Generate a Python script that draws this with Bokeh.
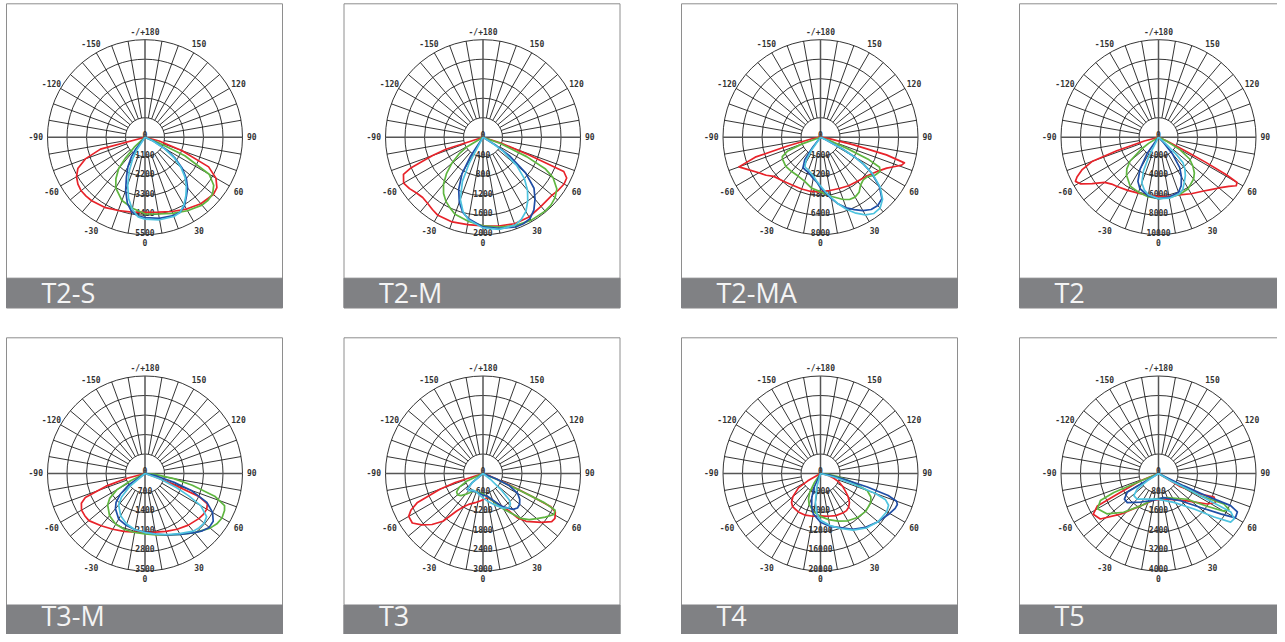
import math
from bokeh.plotting import figure
from bokeh.models import Range1d
from bokeh.core.properties import value
from bokeh.embed import file_html
from bokeh.resources import INLINE

# ---------------- data ----------------
panel_names = ["T2-S", "T2-M", "T2-MA", "T2", "T3-M", "T3", "T4", "T5"]
scale_max = [5500, 2000, 8000, 10000, 3500, 3000, 20000, 4000]
ring_labels = [
    ["0", "1100", "2200", "3300", "4400", "5500"],
    ["0", "400", "800", "1200", "1600", "2000"],
    ["0", "1600", "3200", "4800", "6400", "8000"],
    ["0", "2000", "4000", "6000", "8000", "10000"],
    ["0", "700", "1400", "2100", "2800", "3500"],
    ["0", "600", "1200", "1800", "2400", "3000"],
    ["0", "4000", "8000", "12000", "16000", "20000"],
    ["0", "800", "1600", "2400", "3200", "4000"],
]
angle_label_deg = [0, 30, 60, 90, 120, 150, 180, -150, -120, -90, -60, -30]
angle_label_txt = ["0", "30", "60", "90", "120", "150", "-/+180", "-150", "-120", "-90", "-60", "-30"]

# T2-S
t2s_red_deg = [-82, -75, -70, -65, -60, -55, -50, -45, -40, -30, -20, -10, 0, 10, 20, 30, 40, 50, 55, 60, 65, 70, 75, 80]
t2s_red_cd = [0, 2600, 3580, 4180, 4460, 4620, 4700, 4700, 4680, 4570, 4400, 4290, 4240, 4290, 4460, 4680, 4900, 5030, 4950, 4620, 3960, 2200, 830, 0]
t2s_green_deg = [-52, -47, -43, -40, -35, -30, -20, -10, 0, 10, 20, 30, 40, 45, 50, 55, 60, 65, 68, 72]
t2s_green_cd = [0, 830, 1650, 2310, 2860, 3300, 3800, 4070, 4320, 4400, 4570, 4790, 5000, 5030, 4980, 4730, 4180, 2480, 830, 0]
t2s_blue_deg = [-42, -38, -35, -30, -25, -20, -15, -10, -5, 0, 10, 20, 25, 30, 35, 40, 45, 50, 55, 60, 65, 68]
t2s_blue_cd = [0, 830, 1320, 1930, 2480, 3190, 3850, 4290, 4460, 4540, 4650, 4700, 4680, 4460, 4070, 3740, 3300, 2750, 2090, 1380, 550, 0]
t2s_cyan_deg = [-36, -33, -30, -25, -20, -15, -10, -5, 0, 10, 20, 25, 30, 35, 40, 45, 50, 55, 60, 65, 69]
t2s_cyan_cd = [0, 830, 1380, 2090, 2860, 3580, 4130, 4510, 4620, 4730, 4760, 4680, 4400, 4020, 3630, 3190, 2640, 1980, 1210, 440, 0]

# T2-M
t2m_red_deg = [-78, -72, -70, -67, -65, -60, -55, -50, -45, -40, -35, -30, -20, -10, 0, 10, 20, 30, 40, 50, 55, 60, 64, 67, 69, 72, 78]
t2m_red_cd = [0, 800, 1100, 1600, 1800, 1880, 1840, 1780, 1750, 1770, 1810, 1850, 1850, 1820, 1820, 1850, 1890, 1890, 1850, 1850, 1890, 1920, 1910, 1800, 1000, 400, 0]
t2m_green_deg = [-64, -59, -55, -50, -45, -40, -35, -30, -25, -20, -10, 0, 10, 20, 30, 40, 45, 50, 55, 60, 63, 66, 70, 74]
t2m_green_cd = [0, 380, 600, 840, 1060, 1260, 1410, 1520, 1600, 1680, 1750, 1820, 1870, 1930, 1970, 1980, 1970, 1930, 1850, 1660, 1440, 980, 380, 0]
t2m_blue_deg = [-36, -33, -30, -25, -20, -15, -10, 0, 10, 20, 25, 30, 35, 40, 45, 50, 55, 58, 62]
t2m_blue_cd = [0, 480, 860, 1180, 1420, 1600, 1700, 1840, 1900, 1960, 1960, 1930, 1820, 1660, 1480, 1140, 660, 300, 0]
t2m_cyan_deg = [-31, -28, -25, -20, -15, -10, 0, 10, 20, 25, 30, 35, 40, 45, 50, 55, 58, 62]
t2m_cyan_cd = [0, 600, 1000, 1360, 1580, 1720, 1860, 1920, 1920, 1860, 1760, 1600, 1420, 1200, 900, 500, 200, 0]

# T2-MA
t2ma_red_deg = [-85, -80, -75, -73, -70, -65, -60, -55, -50, -40, -30, -20, -10, 0, 10, 20, 30, 40, 50, 55, 60, 65, 68, 71, 73, 75, 77, 80, 85]
t2ma_red_cd = [0, 640, 2800, 5600, 7120, 6400, 5840, 5440, 5000, 4720, 4560, 4520, 4520, 4480, 4440, 4480, 4600, 4720, 4960, 5200, 5520, 6000, 6480, 7040, 7200, 5600, 2800, 800, 0]
t2ma_green_deg = [-74, -70, -67, -63, -60, -50, -40, -30, -20, -10, 0, 10, 20, 25, 30, 35, 40, 45, 50, 55, 60, 63, 65, 67, 70, 74]
t2ma_green_cd = [0, 1600, 2960, 3520, 3600, 3720, 3680, 3680, 3840, 4240, 4480, 4920, 5440, 5640, 5680, 5520, 5120, 4960, 5040, 5440, 5640, 5440, 4400, 2400, 800, 0]
t2ma_blue_deg = [-42, -38, -35, -30, -25, -20, -15, -10, -5, 0, 5, 10, 15, 20, 25, 30, 35, 40, 45, 50, 55, 58, 60, 62, 65, 68]
t2ma_blue_cd = [0, 1040, 2240, 2880, 2960, 3040, 3200, 3440, 3680, 4160, 4560, 5120, 5680, 6160, 6560, 6960, 7240, 7320, 7120, 6320, 5120, 4160, 3200, 2000, 400, 0]
t2ma_cyan_deg = [-38, -35, -32, -28, -25, -20, -15, -10, -5, 0, 5, 10, 15, 20, 25, 30, 35, 40, 45, 50, 55, 58, 60, 62, 65, 68]
t2ma_cyan_cd = [0, 1200, 2240, 2720, 2800, 2880, 3040, 3280, 3600, 4000, 4480, 5040, 5680, 6320, 6880, 7360, 7640, 7600, 7200, 6400, 5200, 4160, 3200, 2000, 480, 0]

# T2
t2_red_deg = [-80, -75, -72, -70, -67, -64, -62, -59, -55, -50, -45, -40, -30, -20, -10, 0, 10, 20, 30, 40, 45, 50, 55, 58, 60, 61, 62, 63, 65, 70]
t2_red_cd = [0, 1500, 4500, 7200, 8500, 9300, 9650, 9300, 8300, 7200, 6800, 6600, 6300, 6100, 6050, 6100, 6150, 6300, 6700, 7200, 7600, 8100, 8800, 9400, 9300, 8000, 5500, 3000, 1000, 0]
t2_green_deg = [-62, -58, -55, -50, -45, -40, -30, -20, -10, 0, 10, 20, 30, 40, 45, 50, 55, 60, 65, 70]
t2_green_cd = [0, 1200, 2200, 3800, 4600, 5100, 5800, 6000, 6200, 6300, 6300, 6250, 6100, 5600, 5200, 4600, 3900, 2500, 800, 0]
t2_blue_deg = [-39, -35, -30, -25, -20, -10, 0, 10, 20, 25, 30, 35, 40, 43, 46]
t2_blue_cd = [0, 2000, 3800, 5000, 5600, 6100, 6300, 6250, 6000, 5500, 4700, 3800, 2200, 800, 0]
t2_cyan_deg = [-30, -27, -24, -20, -15, -10, 0, 10, 20, 25, 30, 35, 40, 44, 46, 48, 50]
t2_cyan_cd = [0, 2000, 3800, 5000, 5600, 6000, 6300, 6350, 6200, 5900, 5300, 4800, 4200, 3600, 2500, 800, 0]

# T3-M
t3m_red_deg = [-80, -75, -72, -68, -65, -60, -55, -50, -40, -30, -20, -10, 0, 10, 20, 30, 40, 50, 55, 60, 64, 67, 69, 72, 76]
t3m_red_cd = [0, 700, 1470, 2310, 2520, 2630, 2640, 2630, 2450, 2310, 2210, 2140, 2120, 2140, 2210, 2310, 2420, 2520, 2560, 2560, 2490, 2100, 1050, 350, 0]
t3m_green_deg = [-68, -63, -60, -55, -50, -40, -30, -20, -10, 0, 10, 20, 30, 40, 50, 55, 60, 65, 68, 72, 76, 80, 85, 90]
t3m_green_cd = [0, 580, 1160, 1540, 1750, 1980, 2100, 2140, 2150, 2170, 2240, 2350, 2520, 2770, 3050, 3150, 3190, 3150, 3080, 2630, 1750, 1050, 350, 0]
t3m_blue_deg = [-58, -55, -50, -45, -40, -30, -20, -10, 0, 10, 20, 30, 40, 45, 50, 55, 60, 65, 70, 73, 78, 85]
t3m_blue_cd = [0, 700, 1160, 1470, 1650, 1890, 1980, 2050, 2100, 2210, 2350, 2520, 2770, 2910, 3010, 2990, 2800, 2450, 1750, 1090, 420, 0]
t3m_cyan_deg = [-54, -50, -45, -40, -30, -20, -10, 0, 10, 20, 30, 40, 45, 50, 55, 60, 63, 66, 70, 75]
t3m_cyan_cd = [0, 700, 1190, 1470, 1750, 1930, 2050, 2120, 2210, 2330, 2490, 2700, 2750, 2770, 2700, 2310, 1750, 1230, 600, 0]

# T3
t3_red_deg = [-78, -72, -70, -66, -63, -60, -55, -50, -45, -40, -35, -30, -25, -15, -5, 5, 10, 20, 25, 30, 35, 38, 42, 50, 55, 58, 62, 64, 65, 67, 70, 74]
t3_red_cd = [0, 900, 1410, 2220, 2490, 2640, 2655, 2460, 2220, 1920, 1410, 1170, 1050, 930, 840, 780, 750, 900, 1020, 1170, 1410, 1740, 1980, 2340, 2580, 2610, 2520, 2310, 1650, 750, 240, 0]
t3_green_deg = [-68, -65, -60, -55, -50, -45, -40, -35, -30, -20, -10, 0, 10, 20, 30, 40, 45, 50, 55, 60, 63, 64.5, 65.5, 67, 70]
t3_green_cd = [0, 540, 840, 990, 1020, 960, 840, 720, 630, 600, 600, 630, 720, 900, 1260, 1800, 2010, 2160, 2340, 2520, 2490, 2100, 1200, 450, 0]
t3_blue_deg = [-53, -50, -45, -40, -30, -20, -10, 0, 10, 20, 30, 40, 45, 50, 55, 60, 65, 68, 72]
t3_blue_cd = [0, 450, 690, 660, 630, 600, 630, 660, 705, 870, 1170, 1440, 1500, 1470, 1380, 1230, 900, 450, 0]
t3_cyan_deg = [-53, -50, -45, -40, -30, -20, -10, 0, 10, 20, 30, 37, 42, 45, 48, 52, 55]
t3_cyan_cd = [0, 420, 660, 690, 600, 600, 660, 750, 870, 1020, 1230, 1320, 1260, 1140, 750, 300, 0]

# T4
t4_red_deg = [-64, -60, -57, -50, -45, -40, -30, -20, -10, 0, 10, 20, 30, 35, 40, 45, 50, 55, 60, 65, 70, 75, 80, 85]
t4_red_cd = [0, 3000, 5400, 7400, 8400, 8900, 9100, 9100, 8900, 8700, 8900, 9200, 9300, 9300, 9000, 8400, 7400, 6200, 5200, 4200, 3000, 1800, 800, 0]
t4_green_deg = [-38, -34, -30, -25, -20, -10, 0, 10, 20, 30, 40, 50, 60, 65, 70, 75, 80, 85, 90]
t4_green_cd = [0, 2200, 4400, 5800, 6800, 8000, 8800, 9600, 10400, 11200, 11800, 12100, 11900, 11400, 10200, 6600, 3600, 1400, 0]
t4_blue_deg = [-28, -25, -20, -15, -10, 0, 10, 20, 30, 40, 50, 60, 65, 68, 70, 72, 74, 76, 80, 85]
t4_blue_cd = [0, 3000, 5200, 7000, 8400, 10000, 11000, 11800, 13200, 14400, 15400, 16400, 16900, 17000, 16600, 14600, 10000, 5000, 2000, 0]
t4_cyan_deg = [-18, -15, -10, -5, 0, 10, 20, 30, 40, 50, 60, 65, 68, 70, 72, 75, 80]
t4_cyan_cd = [0, 3000, 6000, 8400, 9600, 10800, 12000, 13400, 14600, 15400, 15700, 15400, 14400, 12000, 7000, 3000, 0]

# T5 (traced in drawing order)
t5_red_deg = [-72, -68, -63, -62, -58, -52, -43, -29, -10, 19, 46, 58, 63, 67, 64, 59, 58]
t5_red_cd = [0, 800, 2040, 2840, 3160, 3030, 2280, 1520, 1100, 1110, 1620, 2360, 2620, 2480, 1920, 1050, 0]
t5_green_deg = [-69, -67, -67, -65, -60, -52, -42, -29, -10, 20, 48, 56, 60, 63, 65, 62, 61, 60]
t5_green_cd = [0, 950, 1990, 2630, 2890, 2690, 2140, 1520, 1070, 1050, 1580, 2400, 3090, 3240, 2960, 1950, 1040, 0]
t5_blue_deg = [-62, -59, -59, -53, -47, -32, -16, 12, 39, 51, 57, 60, 64, 66, 65, 64, 63]
t5_blue_cd = [0, 860, 1500, 1750, 1750, 1380, 1170, 1010, 1440, 2220, 3040, 3640, 3600, 3240, 2200, 1160, 0]
t5_cyan_deg = [-60, -57, -54, -48, -40, -3, 28, 45, 52, 56, 59, 62, 62, 62, 59, 58]
t5_cyan_cd = [0, 550, 1080, 1360, 1370, 1050, 1340, 2060, 2900, 3570, 3620, 3360, 2560, 1490, 580, 0]

series_colors = ["#e8232a", "#5fb640", "#1f4ea6", "#4ec3df"]
panel_curves = [
    [(t2s_red_deg, t2s_red_cd), (t2s_green_deg, t2s_green_cd), (t2s_blue_deg, t2s_blue_cd), (t2s_cyan_deg, t2s_cyan_cd)],
    [(t2m_red_deg, t2m_red_cd), (t2m_green_deg, t2m_green_cd), (t2m_blue_deg, t2m_blue_cd), (t2m_cyan_deg, t2m_cyan_cd)],
    [(t2ma_red_deg, t2ma_red_cd), (t2ma_green_deg, t2ma_green_cd), (t2ma_blue_deg, t2ma_blue_cd), (t2ma_cyan_deg, t2ma_cyan_cd)],
    [(t2_red_deg, t2_red_cd), (t2_green_deg, t2_green_cd), (t2_blue_deg, t2_blue_cd), (t2_cyan_deg, t2_cyan_cd)],
    [(t3m_red_deg, t3m_red_cd), (t3m_green_deg, t3m_green_cd), (t3m_blue_deg, t3m_blue_cd), (t3m_cyan_deg, t3m_cyan_cd)],
    [(t3_red_deg, t3_red_cd), (t3_green_deg, t3_green_cd), (t3_blue_deg, t3_blue_cd), (t3_cyan_deg, t3_cyan_cd)],
    [(t4_red_deg, t4_red_cd), (t4_green_deg, t4_green_cd), (t4_blue_deg, t4_blue_cd), (t4_cyan_deg, t4_cyan_cd)],
    [(t5_red_deg, t5_red_cd), (t5_green_deg, t5_green_cd), (t5_blue_deg, t5_blue_cd), (t5_cyan_deg, t5_cyan_cd)],
]

# ---------------- layout ----------------
W, H = 1277, 634
p = figure(width=W, height=H, x_range=Range1d(0, W), y_range=Range1d(H, 0),
           output_backend="svg", toolbar_location=None, min_border=0)
p.axis.visible = False
p.grid.visible = False
p.outline_line_color = None
p.background_fill_color = "white"
p.border_fill_color = "white"

col_left = [6, 343.5, 681, 1019]
col_cx = [144.5, 482.5, 820, 1158]
row_top = [3.3, 337.3]
row_bar = [277.7, 604.5]
row_bottom = [307.3, 641.3]
row_cy = [136.7, 473.0]
row_title_mid = [292.0, 614.5]
BOX_W = 276
R = 97.5
NR = 5
MONO = value("DejaVu Sans Mono")

for i, name in enumerate(panel_names):
    row, col = divmod(i, 4)
    left = col_left[col]
    top = row_top[row]
    cx, cy = col_cx[col], row_cy[row]
    imax = scale_max[i]

    # panel box and title bar
    p.quad(left=[left], right=[left + BOX_W], top=[top], bottom=[row_bottom[row]],
           fill_color="white", line_color="#8e8e8e", line_width=1)
    p.quad(left=[left], right=[left + BOX_W], top=[row_bar[row]], bottom=[row_bottom[row]],
           fill_color="#808184", line_color="#808184", line_width=1)

    # rings
    ring_r = [R * k / NR for k in range(1, NR + 1)]
    p.circle(x=[cx] * NR, y=[cy] * NR, radius=ring_r, fill_color=None,
             line_color="#1e1e1e", line_width=0.9)

    # spokes every 10 degrees (outside the inner ring)
    x0s, y0s, x1s, y1s = [], [], [], []
    for a in range(-170, 181, 10):
        if a % 90 == 0:
            continue
        t = math.radians(a)
        x0s.append(cx + ring_r[0] * math.sin(t)); y0s.append(cy + ring_r[0] * math.cos(t))
        x1s.append(cx + R * math.sin(t)); y1s.append(cy + R * math.cos(t))
    p.segment(x0=x0s, y0=y0s, x1=x1s, y1=y1s, line_color="#1e1e1e", line_width=0.9)
    # main axes
    p.segment(x0=[cx - R, cx], y0=[cy, cy - R], x1=[cx + R, cx], y1=[cy, cy + R],
              line_color="#555555", line_width=1.5)

    # ring labels
    p.text(x=[cx] * (NR + 1), y=[cy + R * k / NR - 2.6 for k in range(NR + 1)], text=ring_labels[i],
           text_font=MONO, text_font_size="8px", text_font_style="bold", text_color="#333333",
           text_align="center", text_baseline="middle")

    # angle labels
    lx, ly, lt, la = [], [], [], []
    for a, s in zip(angle_label_deg, angle_label_txt):
        t = math.radians(a)
        if abs(a) == 90:
            rr = 102
        elif a == 0 or a == 180:
            rr = 105
        else:
            rr = 108
        lx.append(cx + rr * math.sin(t)); ly.append(cy + rr * math.cos(t) - (1 if abs(a) == 90 else 0))
        lt.append(s)
        la.append("left" if a == 90 else ("right" if a == -90 else "center"))
    p.text(x=lx, y=ly, text=lt, text_align=la, text_font=MONO, text_font_size="8px",
           text_font_style="bold", text_color="#333333", text_baseline="middle")

    # photometric curves
    for (degs, cds), colr in zip(panel_curves[i], series_colors):
        xs = [cx + c / imax * R * math.sin(math.radians(d)) for d, c in zip(degs, cds)]
        ys = [cy + c / imax * R * math.cos(math.radians(d)) for d, c in zip(degs, cds)]
        p.line(xs, ys, line_color=colr, line_width=1.7, line_join="round")

    # title
    p.text(x=[left + 35], y=[row_title_mid[row]], text=[name], text_font=value("Open Sans"),
           text_font_size="27px", text_color="#f4f4f4", text_align="left",
           text_baseline="middle")

open("out.html", "w").write(file_html(p, INLINE))
